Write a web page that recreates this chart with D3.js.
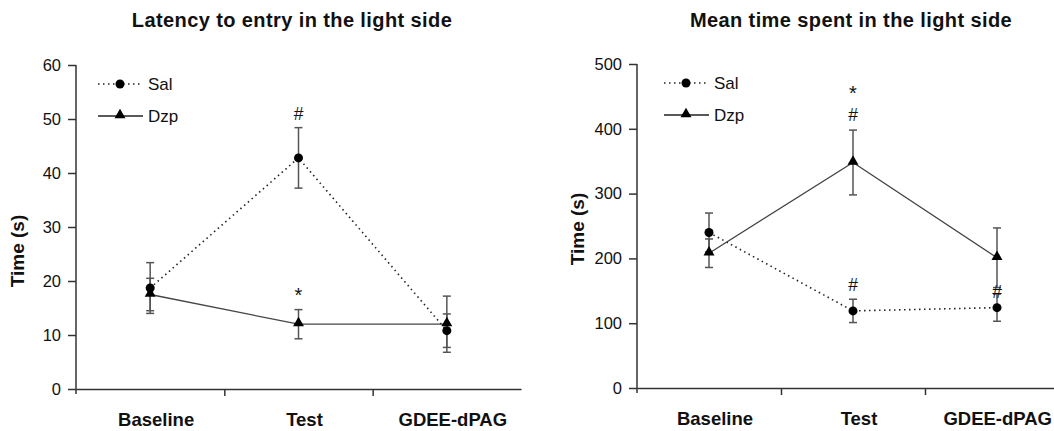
<!DOCTYPE html>
<html>
<head>
<meta charset="utf-8">
<script src="https://d3js.org/d3.v7.min.js"></script>
<style>
  body { margin: 0; background: #fff; }
  text { font-family: "Liberation Sans", Arial, sans-serif; fill: #111; }
</style>
</head>
<body>
<script>
var width = 1054;
var height = 431;

var categories = ["Baseline", "Test", "GDEE-dPAG"];
var seriesNames = ["Sal", "Dzp"];

// latency to entry (s)
var latencySal = [18.7, 42.8, 10.8];
var latencySalSem = [4.7, 5.6, 3.1];
var latencyDzp = [17.5, 12.0, 12.0];
var latencyDzpSem = [3.0, 2.7, 5.2];
var latencyTicks = [0, 10, 20, 30, 40, 50, 60];
// significance marks: category index, y value where the sign sits, sign
var latencyMarks = [[1, 51, "#"], [1, 18.8, "*"]];

// mean time spent (s)
var timeSal = [240, 119, 124];
var timeSalSem = [30, 18, 21];
var timeDzp = [208, 348, 201];
var timeDzpSem = [22, 50, 46];
var timeTicks = [0, 100, 200, 300, 400, 500];
var timeMarks = [[1, 467, "*"], [1, 422, "#"], [1, 160, "#"], [2, 149, "#"]];

var svg = d3.select("body")
  .append("svg")
  .attr("width", width)
  .attr("height", height);

function drawPanel(opt) {
  var g = svg.append("g");

  var x = d3.scaleLinear()
    .domain([0, categories.length])
    .range([opt.left, opt.right]);

  var y = d3.scaleLinear()
    .domain([0, d3.max(opt.ticks)])
    .range([opt.bottom, opt.top]);

  // title
  g.append("text")
    .attr("x", opt.titleX)
    .attr("y", 27)
    .attr("text-anchor", "middle")
    .style("font-size", "20px")
    .style("font-weight", "bold")
    .style("letter-spacing", "0.4px")
    .text(opt.title);

  // y axis
  var yAxis = d3.axisLeft(y)
    .tickValues(opt.ticks)
    .tickSize(8)
    .tickSizeOuter(0)
    .tickPadding(7);
  var ya = g.append("g")
    .attr("transform", "translate(" + opt.left + ",0)")
    .call(yAxis);
  ya.select(".domain").attr("stroke", "#333").attr("stroke-width", 1.5)
    .attr("d", "M0," + (opt.bottom + 5) + "V" + opt.top);
  ya.selectAll(".tick line").attr("stroke", "#333").attr("stroke-width", 1.5);
  ya.selectAll(".tick text")
    .style("font-size", "16.5px")
    .style("font-family", "Liberation Sans, Arial, sans-serif")
    .attr("fill", "#111");

  // x axis: ticks between the categories
  var xAxis = d3.axisBottom(x)
    .tickValues(d3.range(1, categories.length))
    .tickFormat("")
    .tickSize(7)
    .tickSizeOuter(0);
  var xa = g.append("g")
    .attr("transform", "translate(0," + opt.bottom + ")")
    .call(xAxis);
  xa.select(".domain").attr("stroke", "#333").attr("stroke-width", 1.5);
  xa.selectAll(".tick line").attr("stroke", "#333").attr("stroke-width", 1.5);

  g.selectAll(".catlabel")
    .data(categories)
    .enter()
    .append("text")
    .attr("y", opt.bottom + 37)
    .attr("text-anchor", "middle")
    .style("font-size", "18.5px")
    .style("font-weight", "bold")
    .text(function(d) { return d; })
    .attr("x", function(d, i) {
      // keep the last label inside the page
      var half = this.getComputedTextLength() / 2;
      return Math.min(x(i + 0.5) + 6, width - half - 2);
    });

  // y label
  g.append("text")
    .attr("transform", "translate(" + opt.yLabelX + "," + opt.yLabelY + ") rotate(-90)")
    .attr("text-anchor", "middle")
    .style("font-size", "19px")
    .style("font-weight", "bold")
    .text("Time (s)");

  var series = [
    { name: "Sal", vals: opt.sal, sem: opt.salSem, dash: "1.5,3.5" },
    { name: "Dzp", vals: opt.dzp, sem: opt.dzpSem, dash: null }
  ];

  var line = d3.line()
    .x(function(d, i) { return x(i + 0.5); })
    .y(function(d) { return y(d); });

  // error bars
  series.forEach(function(s) {
    var eb = g.append("g");
    eb.selectAll("line.v")
      .data(s.vals)
      .enter()
      .append("line")
      .attr("x1", function(d, i) { return x(i + 0.5); })
      .attr("x2", function(d, i) { return x(i + 0.5); })
      .attr("y1", function(d, i) { return y(d + s.sem[i]); })
      .attr("y2", function(d, i) { return y(d - s.sem[i]); })
      .attr("stroke", "#555")
      .attr("stroke-width", 1.5);
    [1, -1].forEach(function(sign) {
      eb.selectAll("line.cap" + sign)
        .data(s.vals)
        .enter()
        .append("line")
        .attr("x1", function(d, i) { return x(i + 0.5) - 4; })
        .attr("x2", function(d, i) { return x(i + 0.5) + 4; })
        .attr("y1", function(d, i) { return y(d + sign * s.sem[i]); })
        .attr("y2", function(d, i) { return y(d + sign * s.sem[i]); })
        .attr("stroke", "#555")
        .attr("stroke-width", 1.5);
    });
  });

  // lines
  series.forEach(function(s) {
    g.append("path")
      .datum(s.vals)
      .attr("d", line)
      .attr("fill", "none")
      .attr("stroke", s.dash ? "#222" : "#444")
      .attr("stroke-width", s.dash ? 1.6 : 1.3)
      .attr("stroke-dasharray", s.dash);
  });

  var tri = d3.symbol().type(d3.symbolTriangle).size(52);

  // markers
  g.selectAll(".sal")
    .data(opt.sal)
    .enter()
    .append("circle")
    .attr("cx", function(d, i) { return x(i + 0.5); })
    .attr("cy", function(d) { return y(d); })
    .attr("r", 4.5)
    .attr("fill", "#000");

  g.selectAll(".dzp")
    .data(opt.dzp)
    .enter()
    .append("path")
    .attr("d", tri)
    .attr("transform", function(d, i) { return "translate(" + x(i + 0.5) + "," + (y(d) - 1) + ")"; })
    .attr("fill", "#000");

  // significance signs
  g.selectAll(".mark")
    .data(opt.marks)
    .enter()
    .append("text")
    .attr("x", function(d) { return x(d[0] + 0.5); })
    .attr("y", function(d) { return y(d[1]); })
    .attr("dy", function(d) { return d[2] == "*" ? "0.72em" : "0.36em"; })
    .attr("text-anchor", "middle")
    .style("font-size", function(d) { return d[2] == "*" ? "20px" : "17.5px"; })
    .text(function(d) { return d[2]; });

  // legend
  var lg = g.append("g");
  series.forEach(function(s, k) {
    var ly = opt.legendY + k * 32;
    lg.append("line")
      .attr("x1", opt.legendX)
      .attr("x2", opt.legendX + 45)
      .attr("y1", ly)
      .attr("y2", ly)
      .attr("stroke", "#222")
      .attr("stroke-width", s.dash ? 1.6 : 1.3)
      .attr("stroke-dasharray", s.dash);
    if (s.name == "Sal") {
      lg.append("circle").attr("cx", opt.legendX + 22).attr("cy", ly).attr("r", 4.5).attr("fill", "#000");
    } else {
      lg.append("path").attr("d", tri)
        .attr("transform", "translate(" + (opt.legendX + 22) + "," + (ly - 1) + ")")
        .attr("fill", "#000");
    }
    lg.append("text")
      .attr("x", opt.legendX + 50)
      .attr("y", ly)
      .attr("dy", "0.36em")
      .style("font-size", "17px")
      .text(s.name);
  });
}

drawPanel({
  title: "Latency to entry in the light side",
  titleX: 292,
  left: 76, right: 521, top: 65, bottom: 389,
  ticks: latencyTicks,
  sal: latencySal, salSem: latencySalSem,
  dzp: latencyDzp, dzpSem: latencyDzpSem,
  marks: latencyMarks,
  yLabelX: 24, yLabelY: 251,
  legendX: 98, legendY: 84
});

drawPanel({
  title: "Mean time spent in the light side",
  titleX: 851,
  left: 637, right: 1069, top: 64, bottom: 388,
  ticks: timeTicks,
  sal: timeSal, salSem: timeSalSem,
  dzp: timeDzp, dzpSem: timeDzpSem,
  marks: timeMarks,
  yLabelX: 584, yLabelY: 229,
  legendX: 664, legendY: 83
});
</script>
</body>
</html>
